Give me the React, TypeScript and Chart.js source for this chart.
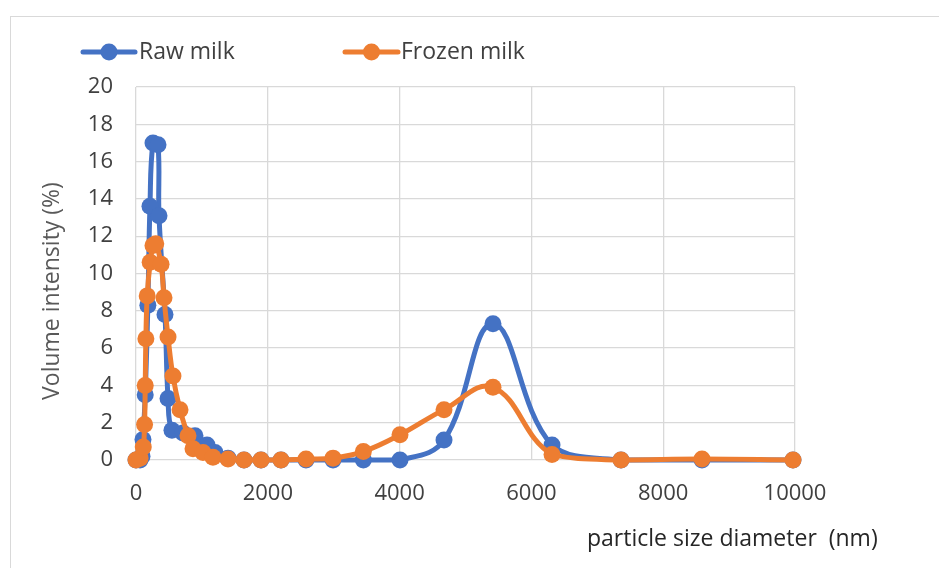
import React, { useEffect, useRef } from "react";
import { Chart, registerables } from "chart.js";

Chart.register(...registerables);

// Particle size (nm) and volume intensity (%)
const rawSize = [0, 61, 91, 106, 140, 180, 212, 258, 334, 349, 440, 486, 546, 713, 895, 1077, 1199, 1396, 1639, 1897, 2200, 2580, 2990, 3450, 4006, 4674, 5417, 6313, 7360, 8589, 9970];
const rawIntensity = [0, 0, 0.2, 1.1, 3.5, 8.3, 13.6, 17.0, 16.9, 13.1, 7.8, 3.3, 1.6, 1.45, 1.3, 0.8, 0.4, 0.1, 0, 0, 0, 0, 0, 0, 0, 1.07, 7.3, 0.8, 0, 0, 0];

const frozenSize = [0, 61, 110, 130, 140, 150, 170, 215, 258, 300, 380, 425, 486, 561, 668, 789, 865, 1017, 1168, 1396, 1639, 1897, 2200, 2580, 2990, 3450, 4006, 4674, 5417, 6313, 7360, 8589, 9970];
const frozenIntensity = [0, 0.1, 0.7, 1.9, 4.0, 6.5, 8.8, 10.6, 11.5, 11.6, 10.5, 8.7, 6.6, 4.5, 2.7, 1.3, 0.6, 0.4, 0.15, 0.05, 0, 0, 0, 0.05, 0.1, 0.45, 1.35, 2.7, 3.9, 0.3, 0, 0.05, 0];

const seriesNames = ["Raw milk", "Frozen milk"];
const xTitle = "particle size diameter  (nm)";
const yTitle = "Volume intensity (%)";

const BLUE = "#4472C4";
const ORANGE = "#ED7D31";
const FONT = "'Open Sans', sans-serif";

const toPoints = (xs: number[], ys: number[]) => xs.map((x, i) => ({ x, y: ys[i] }));

const overlayPlugin = {
  id: "overlay",
  afterDraw(chart: any) {
    const ctx = chart.ctx;
    ctx.save();
    // legend
    const items = [
      { name: seriesNames[0], color: BLUE, x0: 83, x1: 135, tx: 139 },
      { name: seriesNames[1], color: ORANGE, x0: 345, x1: 398, tx: 401 },
    ];
    const ly = 52;
    items.forEach((it) => {
      ctx.strokeStyle = it.color;
      ctx.lineWidth = 5;
      ctx.lineCap = "round";
      ctx.beginPath();
      ctx.moveTo(it.x0, ly);
      ctx.lineTo(it.x1, ly);
      ctx.stroke();
      ctx.fillStyle = it.color;
      ctx.beginPath();
      ctx.arc((it.x0 + it.x1) / 2, ly, 8.5, 0, Math.PI * 2);
      ctx.fill();
      ctx.fillStyle = "#404040";
      ctx.font = `23px ${FONT}`;
      ctx.textAlign = "left";
      ctx.textBaseline = "middle";
      ctx.fillText(it.name, it.tx, ly);
    });
    // axis titles
    ctx.fillStyle = "#262626";
    ctx.font = `23px ${FONT}`;
    ctx.textAlign = "left";
    ctx.textBaseline = "middle";
    ctx.fillText(xTitle, 587, 539);

    ctx.translate(52, 291);
    ctx.rotate(-Math.PI / 2);
    ctx.fillStyle = "#595959";
    ctx.textAlign = "center";
    ctx.fillText(yTitle, 0, 0);
    ctx.restore();
  },
};

export default function App() {
  const ref = useRef<HTMLCanvasElement | null>(null);
  useEffect(() => {
    if (!ref.current) return;
    const chart = new Chart(ref.current, {
      type: "scatter",
      data: {
        datasets: [
          {
            label: seriesNames[0],
            data: toPoints(rawSize, rawIntensity),
            showLine: true,
            borderColor: BLUE,
            backgroundColor: BLUE,
            borderWidth: 5,
            pointRadius: 8.5,
            pointBorderWidth: 0,
            pointBackgroundColor: BLUE,
            tension: 0.4,
            clip: false as any,
            order: 1,
          },
          {
            label: seriesNames[1],
            data: toPoints(frozenSize, frozenIntensity),
            showLine: true,
            borderColor: ORANGE,
            backgroundColor: ORANGE,
            borderWidth: 5,
            pointRadius: 8.5,
            pointBorderWidth: 0,
            pointBackgroundColor: ORANGE,
            tension: 0.4,
            clip: false as any,
            order: 0,
          },
        ],
      },
      options: {
        animation: false,
        responsive: false,
        devicePixelRatio: 1,
        layout: { padding: { left: 0, top: 87, right: 144, bottom: 0 } },
        plugins: { legend: { display: false }, tooltip: { enabled: false } },
        scales: {
          x: {
            type: "linear",
            min: 0,
            max: 10000,
            ticks: {
              stepSize: 2000,
              color: "#404040",
              font: { family: FONT, size: 22 },
              padding: 21,
              maxRotation: 0,
              callback: (v: any) => String(v),
            },
            grid: { color: "#d9d9d9", lineWidth: 1.3, drawTicks: false },
            border: { display: false },
            afterFit: (s: any) => { s.height = 108; },
          },
          y: {
            min: 0,
            max: 20,
            ticks: { stepSize: 2, color: "#404040", font: { family: FONT, size: 22 }, padding: 23, callback: (v: any) => String(v) },
            grid: { color: "#d9d9d9", lineWidth: 1.3, drawTicks: false },
            border: { display: false },
            afterFit: (s: any) => { s.width = 136; },
          },
        },
      },
      plugins: [overlayPlugin],
    });
    return () => chart.destroy();
  }, []);
  return (
    <div style={{ position: "absolute", left: 0, top: 0, width: 939, height: 568, background: "#fff", overflow: "hidden" }}>
      <div style={{ position: "absolute", left: 10, top: 16, width: 1000, height: 1000, borderLeft: "1.5px solid #d9d9d9", borderTop: "1.5px solid #d9d9d9" }} />
      <canvas ref={ref} width={939} height={568} style={{ position: "absolute", left: 0, top: 0 }} />
    </div>
  );
}
